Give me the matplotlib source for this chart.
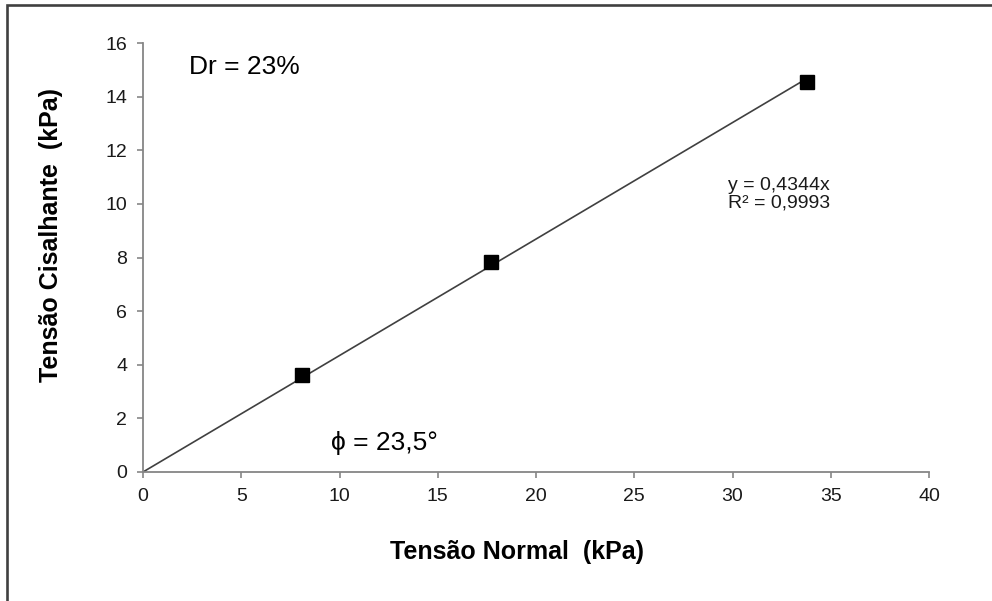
import matplotlib
matplotlib.use("Agg")
import matplotlib.pyplot as plt
from matplotlib.patches import Rectangle

# data
normal_stress = [8.07, 17.7, 33.77]      # kPa
shear_stress = [3.62, 7.85, 14.55]       # kPa
fit_slope = 0.4344
x_ticks = [0, 5, 10, 15, 20, 25, 30, 35, 40]
y_ticks = [0, 2, 4, 6, 8, 10, 12, 14, 16]

plt.rcParams["font.family"] = ["Liberation Sans", "DejaVu Sans"]

W, H = 992, 601
fig = plt.figure(figsize=(W / 100, H / 100), dpi=100)
ax = fig.add_axes([143 / W, 1 - 472 / H, (929 - 143) / W, (472 - 43) / H])

# outer chart border (right/bottom run off the image)
fig.patches.append(Rectangle((6.5 / W, -0.05), 1.1, 1 - 5.5 / H + 0.05,
                             transform=fig.transFigure, fill=False,
                             edgecolor="#404040", linewidth=1.9))

# trend line through origin
x_line = [0, normal_stress[-1]]
ax.plot(x_line, [fit_slope * v for v in x_line], color="#404040", linewidth=1.2,
        zorder=2)
ax.plot(normal_stress, shear_stress, linestyle="none", marker="s", markersize=10.5,
        color="black", zorder=3)

ax.set_xlim(0, 40)
ax.set_ylim(0, 16)
ax.set_xticks(x_ticks)
ax.set_yticks(y_ticks)
for s in ["top", "right"]:
    ax.spines[s].set_visible(False)
for s in ["left", "bottom"]:
    ax.spines[s].set_color("#868686")
    ax.spines[s].set_linewidth(1.3)
ax.tick_params(axis="both", direction="out", length=4.5, width=1.2, color="#868686",
               labelsize=14, labelcolor="#1a1a1a")
ax.tick_params(axis="x", pad=7)
ax.tick_params(axis="y", pad=7)

ax.text(5.14, 15.1, "Dr = 23%", fontsize=19, ha="center", va="center")
ax.text(12.3, 1.08, "\u03d5 = 23,5\u00b0", fontsize=19, ha="center", va="center")
ax.text(29.77, 11.0, "y = 0,4344x\nR\u00b2 = 0,9993", fontsize=14, ha="left", va="top",
        linespacing=1.0, color="#1a1a1a")

fig.text(517 / W, 1 - 552 / H, "Tensão Normal  (kPa)", fontsize=18, fontweight="bold",
         ha="center", va="center")
fig.text(51 / W, 1 - 235 / H, "Tensão Cisalhante  (kPa)", fontsize=18,
         fontweight="bold", ha="center", va="center", rotation=90)

fig.savefig("out.png", dpi=100, facecolor="white")
